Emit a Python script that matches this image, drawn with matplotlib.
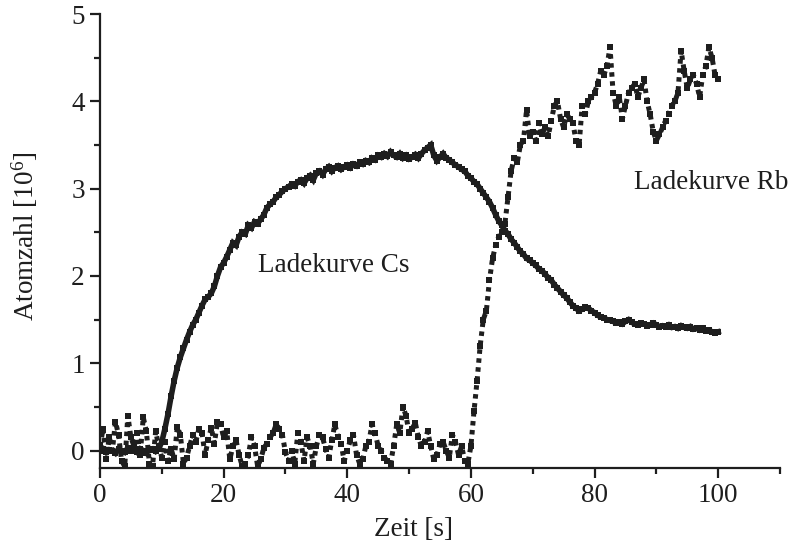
import numpy as np
import matplotlib
matplotlib.use("Agg")
import matplotlib.pyplot as plt
from matplotlib.ticker import MultipleLocator

plt.rcParams['font.family'] = ['Liberation Serif', 'DejaVu Serif']
plt.rcParams['mathtext.fontset'] = 'custom'
plt.rcParams['mathtext.rm'] = 'Liberation Serif'
plt.rcParams['mathtext.it'] = 'Liberation Serif:italic'

# sample times [s] (0.5 s grid)
time_s = np.arange(0, 100.5, 0.5)

# Ladekurve Cs [10^6 atoms]
cs_counts = [
    0.00, 0.02, -0.02, 0.01, 0.00, -0.03, 0.02, 0.00, -0.02, 0.03,
    0.00, 0.01, -0.02, 0.02, 0.00, -0.03, 0.01, 0.02, -0.01, 0.02,
    0.10, 0.25, 0.42, 0.62, 0.80, 0.95, 1.07, 1.17, 1.27, 1.36,
    1.44, 1.50, 1.58, 1.66, 1.73, 1.76, 1.80, 1.88, 2.00, 2.10,
    2.15, 2.22, 2.30, 2.38, 2.35, 2.45, 2.50, 2.48, 2.58, 2.55,
    2.62, 2.60, 2.65, 2.70, 2.78, 2.82, 2.85, 2.90, 2.93, 2.97,
    3.00, 3.02, 3.05, 3.03, 3.08, 3.10, 3.06, 3.12, 3.15, 3.10,
    3.18, 3.20, 3.16, 3.22, 3.25, 3.20, 3.24, 3.26, 3.22, 3.25,
    3.27, 3.24, 3.28, 3.26, 3.30, 3.28, 3.32, 3.30, 3.35, 3.33,
    3.38, 3.36, 3.40, 3.37, 3.42, 3.38, 3.36, 3.40, 3.35, 3.38,
    3.34, 3.36, 3.39, 3.35, 3.40, 3.44, 3.47, 3.50, 3.38, 3.32,
    3.36, 3.40, 3.35, 3.33, 3.30, 3.27, 3.25, 3.22, 3.20, 3.15,
    3.12, 3.08, 3.05, 3.00, 2.95, 2.90, 2.85, 2.78, 2.70, 2.63,
    2.58, 2.52, 2.48, 2.42, 2.38, 2.33, 2.28, 2.25, 2.20, 2.18,
    2.15, 2.12, 2.08, 2.06, 2.02, 1.98, 1.95, 1.90, 1.86, 1.82,
    1.78, 1.75, 1.70, 1.66, 1.63, 1.60, 1.62, 1.64, 1.63, 1.60,
    1.58, 1.55, 1.53, 1.52, 1.50, 1.49, 1.48, 1.46, 1.47, 1.45,
    1.48, 1.50, 1.47, 1.45, 1.44, 1.46, 1.45, 1.43, 1.44, 1.46,
    1.44, 1.42, 1.43, 1.42, 1.44, 1.41, 1.42, 1.40, 1.43, 1.41,
    1.40, 1.42, 1.39, 1.40, 1.38, 1.40, 1.37, 1.38, 1.36, 1.35,
    1.36,
]

# Ladekurve Rb [10^6 atoms]
rb_counts = [
    0.05, 0.25, -0.10, 0.15, 0.00, 0.33, 0.18, -0.12, -0.18, 0.40,
    0.15, 0.05, 0.20, -0.05, 0.38, 0.22, -0.15, -0.18, 0.22, 0.05,
    -0.08, 0.10, -0.12, 0.02, -0.10, 0.27, 0.18, -0.15, -0.08, 0.05,
    0.18, 0.10, 0.25, 0.20, -0.05, 0.12, 0.26, 0.08, 0.33, 0.30,
    0.15, 0.22, -0.10, 0.05, 0.12, -0.05, -0.18, -0.15, -0.05, 0.15,
    0.05, -0.18, -0.10, 0.03, 0.08, 0.15, 0.20, 0.30, 0.25, 0.18,
    -0.02, -0.12, 0.00, -0.15, 0.20, 0.10, -0.12, 0.15, 0.05, -0.15,
    0.05, 0.18, 0.15, 0.02, -0.08, 0.12, 0.30, 0.15, 0.08, -0.12,
    0.00, 0.12, 0.18, -0.05, -0.15, -0.10, 0.05, 0.10, 0.30, 0.20,
    0.05, 0.00, -0.08, -0.12, -0.15, 0.05, 0.30, 0.20, 0.50, 0.40,
    0.20, 0.25, 0.32, 0.15, 0.05, 0.10, 0.22, 0.05, -0.10, -0.05,
    0.07, 0.10, 0.00, -0.08, 0.18, 0.10, -0.05, 0.05, -0.12, -0.15,
    0.05, 0.45, 0.80, 1.20, 1.50, 1.60, 1.95, 2.20, 2.35, 2.45,
    2.50, 2.60, 2.90, 3.20, 3.35, 3.30, 3.50, 3.55, 3.90, 3.60,
    3.65, 3.55, 3.75, 3.62, 3.70, 3.60, 3.78, 3.95, 4.00, 3.80,
    3.70, 3.85, 3.80, 3.75, 3.55, 3.50, 3.95, 3.85, 4.00, 4.05,
    4.10, 4.20, 4.35, 4.30, 4.40, 4.62, 4.10, 3.95, 4.05, 3.80,
    3.95, 4.10, 4.15, 4.20, 4.05, 4.15, 4.25, 4.00, 3.85, 3.65,
    3.55, 3.62, 3.70, 3.78, 3.85, 3.95, 4.00, 4.10, 4.58, 4.35,
    4.15, 4.25, 4.30, 4.20, 4.05, 4.30, 4.40, 4.62, 4.50, 4.30,
    4.25,
]

x_ticks = [0, 20, 40, 60, 80, 100]
y_ticks = [0, 1, 2, 3, 4, 5]

ink = '#1e1e1e'
fs = 19.5

fig = plt.figure(figsize=(7.89, 5.49), dpi=100)
ax = fig.add_axes([100/789, 1 - 468/549, 680/789, (468 - 14)/549])

ax.plot(time_s, cs_counts, color=ink, lw=4.0, marker='s', ms=4.2, mew=0,
        solid_joinstyle='miter')
ax.plot(time_s, rb_counts, ls=(0, (0.9, 0.9)), lw=3.6, color=ink,
        dash_capstyle='butt', marker='s', ms=3.8, mew=0)

ax.set_xlim(0, 110)
ax.set_ylim(-0.2, 5)
ax.set_xticks(x_ticks)
ax.set_yticks(y_ticks)
ax.xaxis.set_minor_locator(MultipleLocator(10))
ax.yaxis.set_minor_locator(MultipleLocator(0.5))

for s in ['top', 'right']:
    ax.spines[s].set_visible(False)
for s in ['left', 'bottom']:
    ax.spines[s].set_linewidth(1.6)
    ax.spines[s].set_color(ink)

ax.tick_params(which='major', direction='out', length=7, width=1.6,
               labelsize=fs, colors=ink, pad=4)
ax.tick_params(which='minor', direction='out', length=4, width=1.6, colors=ink)

ax.set_xlabel('Zeit [s]', fontsize=fs, color=ink)
ax.set_ylabel(r'Atomzahl [10$^{6}$]', fontsize=fs, color=ink)
ax.xaxis.set_label_coords((413 - 100) / 680, -0.108)
ax.yaxis.set_label_coords(-0.088, 0.51)

ax.text(25.6, 2.04, 'Ladekurve Cs', fontsize=fs, color=ink)
ax.text(86.4, 2.99, 'Ladekurve Rb', fontsize=fs, color=ink)

fig.savefig('out.png', dpi=100)
